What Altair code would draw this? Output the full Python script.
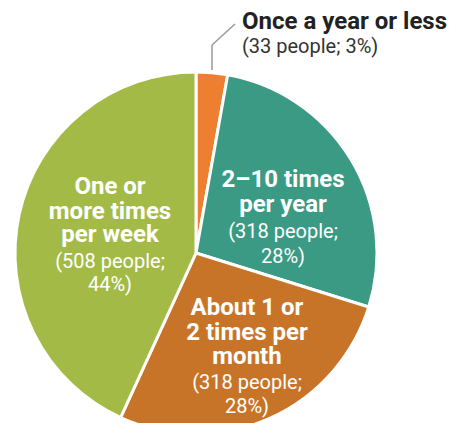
import altair as alt
import pandas as pd

categories = ["Once a year or less", "2–10 times per year", "About 1 or 2 times per month", "One or more times per week"]
people = [33, 318, 318, 508]
percents = [3, 28, 28, 44]
colors = ["#EE7F31", "#3A9A84", "#C87428", "#A3BB46"]

df = pd.DataFrame({"category": categories, "people": people, "order": list(range(len(categories)))})

W, H = 442, 415
CX, CY, R = 188, 245, 181
FONT = "Roboto"
BOLD_SIZE, REG_SIZE = 24, 20

pie = alt.Chart(df).mark_arc(outerRadius=R, stroke="white", strokeWidth=3).encode(
    theta=alt.Theta("people:Q", stack=True),
    order=alt.Order("order:Q"),
    color=alt.Color("category:N", scale=alt.Scale(domain=categories, range=colors), legend=None),
    x=alt.value(CX),
    y=alt.value(CY),
)

# label layout (pixel positions of the text lines)
label_lines = [
    # (text, x, y, bold, color, align)
    ("One or", 102, 179, True, "white", "center"),
    ("more times", 102, 204, True, "white", "center"),
    ("per week", 102, 227, True, "white", "center"),
    (f"({people[3]} people;", 102, 254, False, "white", "center"),
    (f"{percents[3]}%)", 102, 277, False, "white", "center"),
    ("2–10 times", 275, 172, True, "white", "center"),
    ("per year", 275, 197, True, "white", "center"),
    (f"({people[1]} people;", 275, 224, False, "white", "center"),
    (f"{percents[1]}%)", 275, 249, False, "white", "center"),
    ("About 1 or", 239, 300, True, "white", "center"),
    ("2 times per", 239, 325, True, "white", "center"),
    ("month", 239, 349, True, "white", "center"),
    (f"({people[2]} people;", 239, 375, False, "white", "center"),
    (f"{percents[2]}%)", 239, 399, False, "white", "center"),
    ("Once a year or less", 234, 14, True, "#222222", "left"),
    (f"({people[0]} people; {percents[0]}%)", 234, 39, False, "#333333", "left"),
]

layers = [pie]
for text, x, y, bold, col, align in label_lines:
    layers.append(
        alt.Chart(df.head(1)).mark_text(
            text=text,
            font=FONT,
            fontSize=BOLD_SIZE if bold else REG_SIZE,
            fontWeight="bold" if bold else "normal",
            color=col,
            align=align,
            baseline="middle",
        ).encode(x=alt.value(x), y=alt.value(y))
    )

leader1 = alt.Chart(df.head(1)).mark_rule(color="#999999", strokeWidth=1.5).encode(
    x=alt.value(204), y=alt.value(62), y2=alt.value(37)
)
leader2 = alt.Chart(df.head(1)).mark_rule(color="#999999", strokeWidth=1.5).encode(
    x=alt.value(204), x2=alt.value(227), y=alt.value(37), y2=alt.value(16)
)
layers += [leader1, leader2]

chart = alt.layer(*layers).properties(
    width=W, height=H,
    autosize=alt.AutoSizeParams(type="none"),
    padding=0,
    background="white",
).configure_view(strokeWidth=0, stroke="transparent")

chart.save("out.html", embed_options={"renderer": "svg", "actions": False})
